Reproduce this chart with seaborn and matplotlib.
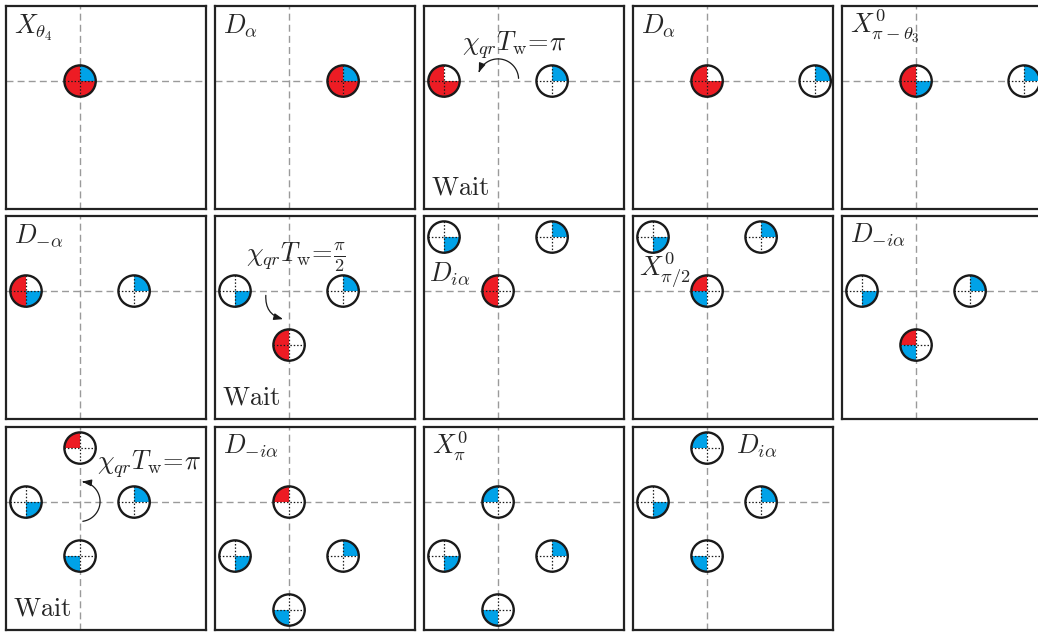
import numpy as np
import seaborn as sns
import matplotlib.pyplot as plt
from matplotlib.patches import Wedge, Circle, FancyArrowPatch
from matplotlib.path import Path

sns.set_theme(style="white")
plt.rcParams['mathtext.fontset'] = 'cm'

# ion positions (units of lattice spacing) and quadrant fills Q1..Q4 (r=red, b=blue, w=white)
ion_x = [[0], [1], [-1, 1], [0, 2], [0, 2],
         [-1, 1], [-1, 1, 0], [-1, 1, 0], [-1, 1, 0], [-1, 1, 0],
         [0, -1, 1, 0], [0, -1, 1, 0], [0, -1, 1, 0], [0, -1, 1, 0]]
ion_y = [[0], [0], [0, 0], [0, 0], [0, 0],
         [0, 0], [0, 0, -1], [1, 1, 0], [1, 1, 0], [0, 0, -1],
         [1, 0, 0, -1], [0, -1, -1, -2], [0, -1, -1, -2], [1, 0, 0, -1]]
ion_fill = [["brrr"], ["brrr"], ["wrrr", "bwww"], ["wrrr", "bwww"], ["wrrb", "bwww"],
            ["wrrb", "bwww"], ["wwwb", "bwww", "wrrw"], ["wwwb", "bwww", "wrrw"],
            ["wwwb", "bwww", "wrbw"], ["wwwb", "bwww", "wrbw"],
            ["wrww", "wwwb", "bwww", "wwbw"], ["wrww", "wwwb", "bwww", "wwbw"],
            ["wbww", "wwwb", "bwww", "wwbw"], ["wbww", "wwwb", "bwww", "wwbw"]]

panel_labels = [r'$X_{\theta_4}$', r'$D_\alpha$', '', r'$D_\alpha$', r'$X^0_{\pi-\theta_3}$',
                r'$D_{-\alpha}$', '', r'$D_{i\alpha}$', r'$X^0_{\pi/2}$', r'$D_{-i\alpha}$',
                '', r'$D_{-i\alpha}$', r'$X^0_{\pi}$', r'$D_{i\alpha}$']
wait_panels = [2, 6, 10]
arrow_texts = {2: r'$\chi_{qr}T_{\rm w}\!=\!\pi$',
               6: r'$\chi_{qr}T_{\rm w}\!=\!\frac{\pi}{2}$',
               10: r'$\chi_{qr}T_{\rm w}\!=\!\pi$'}

colors = {"r": "#ED1C24", "b": "#00A2E8", "w": "white"}
R = 0.29
FS = 19

fig = plt.figure(figsize=(10.38, 6.32), dpi=100)
W, H = 1038, 632
col_left = [6, 215, 424, 633, 842]
row_top = [6, 216, 427]

label_pos = {7: (-1.27, 0.17), 8: (-1.25, 0.28), 13: (0.53, 0.89)}
text_pos = {2: (-0.66, 0.57), 6: (-0.8, 0.54), 10: (0.31, 0.61)}


def arc_arrow(ax, cx, cy, r, a0, a1):
    t = np.radians(np.linspace(a0, a1, 60))
    pts = np.column_stack([cx + r * np.cos(t), cy + r * np.sin(t)])
    p = FancyArrowPatch(path=Path(pts), arrowstyle='-|>,head_length=0.6,head_width=0.22',
                        mutation_scale=9, lw=0.9, color='k', zorder=6)
    ax.add_patch(p)


for i in range(14):
    r_, c_ = divmod(i, 5)
    ax = fig.add_axes([col_left[c_] / W, 1 - (row_top[r_] + 203) / H, 200 / W, 203 / H])
    ax.set_xlim(-1.37, 2.33)
    ax.set_ylim(-2.37, 1.39)
    ax.set_xticks([])
    ax.set_yticks([])
    for s in ax.spines.values():
        s.set_color('#222222')
        s.set_linewidth(1.6)
    ax.axhline(0, color='#9a9a9a', lw=1, ls=(0, (5, 3)), zorder=1)
    ax.axvline(0, color='#9a9a9a', lw=1, ls=(0, (5, 3)), zorder=1)

    for x, y, f in zip(ion_x[i], ion_y[i], ion_fill[i]):
        for q, ch in enumerate(f):
            ax.add_patch(Wedge((x, y), R, 90 * q, 90 * (q + 1), facecolor=colors[ch],
                               edgecolor='none', zorder=3))
        ax.plot([x - R, x + R], [y, y], color='k', lw=0.9, ls=(0, (1.2, 1.5)), zorder=4)
        ax.plot([x, x], [y - R, y + R], color='k', lw=0.9, ls=(0, (1.2, 1.5)), zorder=4)
        ax.add_patch(Circle((x, y), R, facecolor='none', edgecolor='#1a1a1a', lw=1.7, zorder=5))

    if panel_labels[i]:
        lx, ly = label_pos.get(i, (-1.22, 0.89))
        ax.text(lx, ly, panel_labels[i], fontsize=FS, ha='left', va='baseline', zorder=7)
    if i in wait_panels:
        ax.text(0.035, 0.07, r'$\mathrm{Wait}$', transform=ax.transAxes, fontsize=FS,
                ha='left', va='baseline')
    if i in arrow_texts:
        tx, ty = text_pos[i]
        ax.text(tx, ty, arrow_texts[i], fontsize=FS, ha='left', va='baseline', zorder=7)

# rotation arrows
ax_list = fig.axes
arc_arrow(ax_list[2], 0.0, 0.03, 0.38, 3, 160)
ax_list[6].add_patch(FancyArrowPatch((-0.43, -0.08), (-0.11, -0.52),
                                     connectionstyle="arc3,rad=0.4",
                                     arrowstyle='-|>,head_length=0.6,head_width=0.22',
                                     mutation_scale=9, lw=0.9, color='k',
                                     shrinkA=0, shrinkB=0, zorder=6))
arc_arrow(ax_list[10], 0.0, 0.01, 0.37, -82, 84)

fig.savefig("out.png", dpi=100)
